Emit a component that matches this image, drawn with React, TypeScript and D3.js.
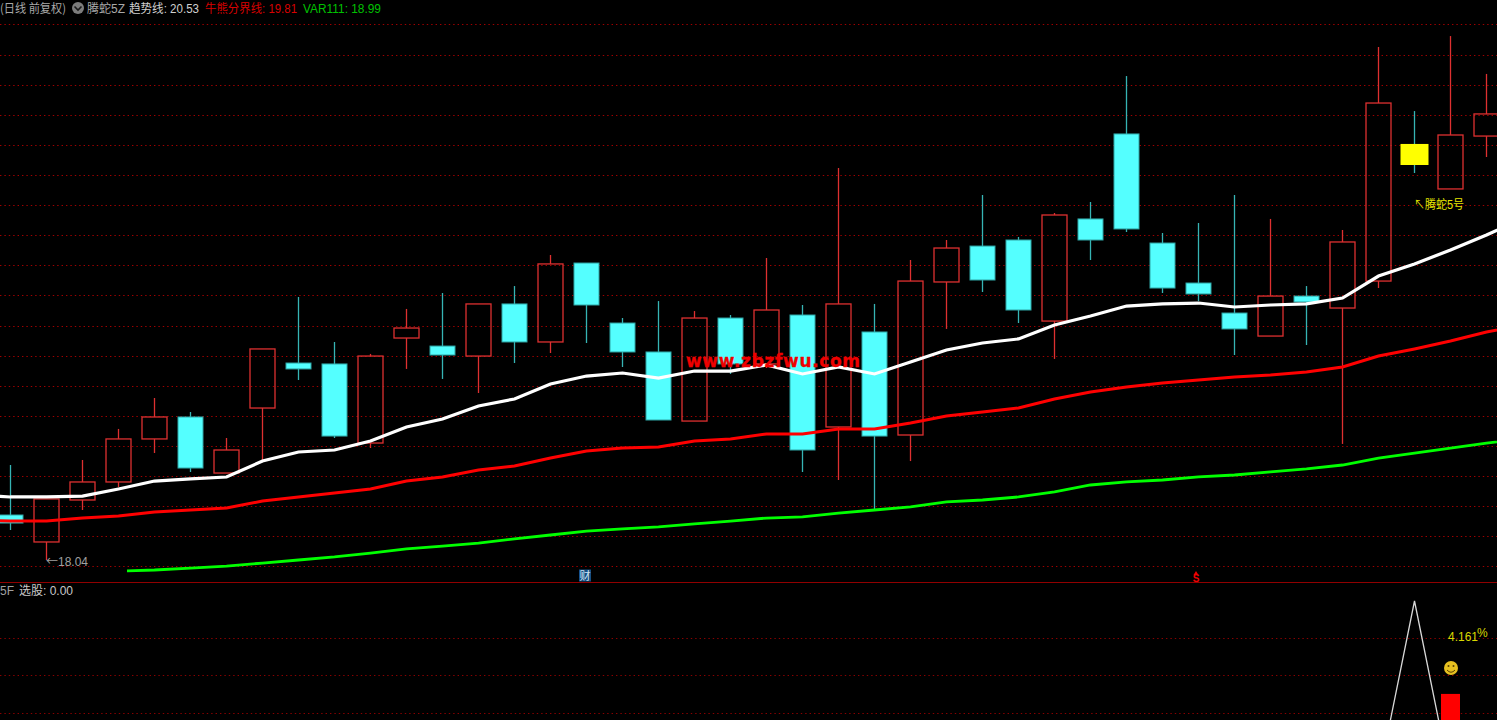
import React from "react";
import * as d3 from "d3";

const opens = [18.382,18.177,18.496,18.633,18.96,19.127,18.701,19.195,19.537,19.53,18.929,19.727,19.666,19.59,19.986,19.697,20.297,19.841,19.621,19.096,19.879,19.53,19.902,19.051,19.773,18.99,20.153,20.426,20.472,19.856,20.632,21.278,20.449,20.145,19.917,19.742,20.046,19.955,20.16,21.202,20.86,21.262];
const highs = [18.762,18.504,18.8,19.036,19.271,19.165,18.967,19.644,20.039,19.697,19.606,19.948,20.069,19.986,20.122,20.358,20.297,19.879,20.008,19.932,19.902,20.335,19.978,21.019,19.986,20.32,20.472,20.814,20.495,20.677,20.761,21.718,20.525,20.601,20.814,20.632,20.122,20.548,21.939,21.452,22.022,21.734];
const lows = [18.268,18.04,18.42,18.595,18.853,18.709,18.701,18.785,19.408,18.967,18.891,19.492,19.416,19.309,19.537,19.613,19.689,19.507,19.104,19.096,19.454,19.499,18.709,18.648,18.42,18.792,19.796,20.077,19.841,19.568,20.32,20.533,20.069,20.008,19.598,19.742,19.674,18.922,20.107,20.981,20.86,21.103];
const closes = [18.321,18.504,18.633,18.96,19.127,18.739,18.876,19.644,19.492,18.982,19.59,19.803,19.598,19.986,19.697,20.29,19.978,19.621,19.104,19.879,19.53,19.94,18.876,19.986,18.982,20.16,20.411,20.168,19.94,20.662,20.472,20.556,20.107,20.062,19.796,20.046,20.001,20.457,21.513,21.042,21.27,21.43];
const highlightedBar = 39;

// Lines run from index -1 to 42, so that they reach past both edges of the window.
const trendStart = -1;
const trendLine = [18.534,18.519,18.519,18.526,18.58,18.64,18.656,18.671,18.792,18.861,18.876,18.944,19.051,19.112,19.21,19.264,19.378,19.438,19.461,19.423,19.476,19.476,19.522,19.454,19.507,19.454,19.545,19.636,19.689,19.72,19.826,19.894,19.97,19.986,19.993,19.963,19.978,19.986,20.031,20.198,20.29,20.396,20.51,20.632];
const bullBearLine = [18.344,18.336,18.336,18.359,18.374,18.405,18.42,18.435,18.488,18.519,18.549,18.58,18.64,18.671,18.724,18.754,18.815,18.868,18.891,18.899,18.944,18.96,18.998,18.998,19.036,19.036,19.081,19.134,19.165,19.195,19.264,19.317,19.355,19.385,19.408,19.431,19.446,19.469,19.507,19.59,19.644,19.704,19.773,19.826];
const var111Start = 3;
const var111Line = [17.956,17.964,17.979,17.994,18.017,18.04,18.063,18.093,18.124,18.146,18.169,18.2,18.23,18.26,18.276,18.291,18.314,18.336,18.359,18.367,18.397,18.42,18.443,18.481,18.496,18.519,18.557,18.61,18.633,18.648,18.671,18.686,18.709,18.732,18.762,18.815,18.853,18.891,18.929,18.96];
const priceGrid = [22.11,21.881,21.652,21.424,21.195,20.966,20.737,20.508,20.28,20.051,19.822,19.593,19.365,19.136,18.907,18.678,18.45,18.221,17.992];

const signalIndex = [38, 39, 40];
const signalValues = [0, 100, 0];
const barIndex = 40;
const barValue = 47.8;
const lowerGrid = [79.2, 58.4, 37.1];

const CJK = "'Noto Sans CJK SC', sans-serif";
const LAT = "'Liberation Sans', sans-serif";

const x = d3.scaleLinear().domain([0, 41]).range([10.5, 1486.5]);
const y = d3.scaleLinear().domain([22.296, 17.736]).range([0, 600]);
const yLow = d3.scaleLinear().domain([0, 100]).range([779, 601]);

const priceLine = (start: number) =>
  d3.line<number>().x((_, i) => x(start + i)).y((d) => y(d));
const signalLine = d3.line<number>().x((_, i) => x(signalIndex[i])).y((d) => yLow(d));

const RED = "#de3030";
const CYAN = "#54ffff";
const CYAN_EDGE = "#2fa5a5";
const GRID = "#a00000";

export default function App() {
  return (
    <svg width={1497} height={720} viewBox="0 0 1497 720"
      style={{ position: "absolute", left: 0, top: 0, background: "#000", display: "block" }}>
      <defs>
        <clipPath id="greenClip"><rect x={127} y={0} width={1370} height={582} /></clipPath>
      </defs>
      <rect width={1497} height={720} fill="#000" />

      {priceGrid.map((g) => (
        <line key={g} x1={0} x2={1497} y1={Math.round(y(g)) + 0.5} y2={Math.round(y(g)) + 0.5}
          stroke={GRID} strokeWidth={1} strokeDasharray="1.4 3" />
      ))}
      {lowerGrid.map((g) => (
        <line key={g} x1={0} x2={1497} y1={Math.round(yLow(g)) + 0.5} y2={Math.round(yLow(g)) + 0.5}
          stroke="#8a0000" strokeWidth={1} strokeDasharray="1.4 3" />
      ))}
      <line x1={0} x2={1497} y1={582.5} y2={582.5} stroke="#900000" strokeWidth={1.2} />

      {opens.map((o, i) => {
        const c = closes[i];
        const up = c > o;
        const top = y(Math.max(o, c));
        const bot = y(Math.min(o, c));
        const cx = Math.round(x(i) * 2) / 2;
        const wick = up ? RED : "#36b4b4";
        if (up) {
          return (
            <g key={i} stroke={wick} strokeWidth={1.3} fill="none">
              {y(highs[i]) < top - 0.5 && <line x1={cx} x2={cx} y1={y(highs[i])} y2={top} />}
              {y(lows[i]) > bot + 0.5 && <line x1={cx} x2={cx} y1={bot} y2={y(lows[i])} />}
              <rect x={cx - 12.5} y={top} width={25} height={bot - top} />
            </g>
          );
        }
        const hl = i === highlightedBar;
        return (
          <g key={i}>
            <line x1={cx} x2={cx} y1={y(highs[i])} y2={y(lows[i])} stroke={wick} strokeWidth={1.3} />
            {hl
              ? <rect x={cx - 14} y={top} width={28} height={bot - top} fill="#ffff00" />
              : <rect x={cx - 12.5} y={top} width={25} height={bot - top} fill={CYAN} stroke={CYAN_EDGE} strokeWidth={1} />}
          </g>
        );
      })}

      <path d={priceLine(var111Start)(var111Line)!} fill="none" stroke="#00ff00" strokeWidth={2.8} clipPath="url(#greenClip)" />
      <path d={priceLine(trendStart)(bullBearLine)!} fill="none" stroke="#ff0000" strokeWidth={3} />
      <path d={priceLine(trendStart)(trendLine)!} fill="none" stroke="#ffffff" strokeWidth={3.2} />

      <text x={686} y={366.5} fontFamily={"'DejaVu Sans', sans-serif"} fontWeight={700} fontSize={17}
        fill="#f00000" stroke="#f00000" strokeWidth={0.3} textLength={174} lengthAdjust="spacing">www.zbzfwu.com</text>

      {/* header */}
      <g fontSize={12} fontFamily={CJK}>
        <text x={0} y={13} fill="#a8a8a8" textLength={66} lengthAdjust="spacingAndGlyphs">(日线 前复权)</text>
        <circle cx={78} cy={8} r={6} fill="#7c7c7c" />
        <path d="M74.5 6.5 L78 10 L81.5 6.5" fill="none" stroke="#1a1a1a" strokeWidth={1.6} />
        <text x={87} y={13} fill="#a8a8a8" textLength={38} lengthAdjust="spacingAndGlyphs">腾蛇<tspan fontFamily={LAT}>5Z</tspan></text>
        <text x={129} y={13} fill="#d0d0d0" textLength={70} lengthAdjust="spacingAndGlyphs">趋势线<tspan fontFamily={LAT}>: 20.53</tspan></text>
        <text x={205} y={13} fill="#d80000" textLength={92} lengthAdjust="spacingAndGlyphs">牛熊分界线<tspan fontFamily={LAT}>: 19.81</tspan></text>
        <text x={303} y={13} fill="#00c000" fontFamily={LAT} textLength={78} lengthAdjust="spacingAndGlyphs">VAR111: 18.99</text>
      </g>

      {/* annotations */}
      <text x={46} y={566} fontSize={12} fontFamily={LAT} fill="#a0a0a0" textLength={42} lengthAdjust="spacingAndGlyphs"><tspan fontFamily={CJK}>←</tspan>18.04</text>
      <text x={0} y={595} fontSize={12} fontFamily={LAT} fill="#a0a0a0">5F</text>
      <text x={19} y={595} fontSize={12} fontFamily={CJK} fill="#c8c8c8">选股<tspan fontFamily={LAT}>: 0.00</tspan></text>

      <rect x={579} y={569.5} width={12} height={12} fill="#174f82" />
      <text x={585} y={580} textAnchor="middle" fontSize={11} fontFamily={CJK} fill="#cfe4f5">财</text>
      <path d="M1196 571 L1198.5 575 L1193.5 575 Z" fill="#f00000" />
      <text x={1196} y={582} textAnchor="middle" fontSize={10} fontWeight={700} fontFamily={LAT} fill="#f00000">S</text>

      <text x={1414} y={208.5} fontSize={12} fontFamily={CJK} fill="#e6e600" textLength={50} lengthAdjust="spacingAndGlyphs">↖腾蛇<tspan fontFamily={LAT}>5</tspan>号</text>

      {/* lower panel */}
      <path d={signalLine(signalValues)!} fill="none" stroke="#d8d8d8" strokeWidth={1.3} />
      <rect x={x(barIndex) - 9.5} y={yLow(barValue)} width={19} height={720 - yLow(barValue)} fill="#ff0000" />
      <text x={1448} y={641} fontSize={12} fontFamily={LAT} fill="#d8d800">4.161</text>
      <text x={1477} y={637} fontSize={12} fontFamily={LAT} fill="#d8d800">%</text>
      <circle cx={1451} cy={668} r={7} fill="#e6c020" />
      <circle cx={1448.5} cy={666} r={1} fill="#5a4000" />
      <circle cx={1453.5} cy={666} r={1} fill="#5a4000" />
      <path d="M1447 670 Q1451 674.5 1455 670" fill="none" stroke="#5a4000" strokeWidth={1} />
    </svg>
  );
}
